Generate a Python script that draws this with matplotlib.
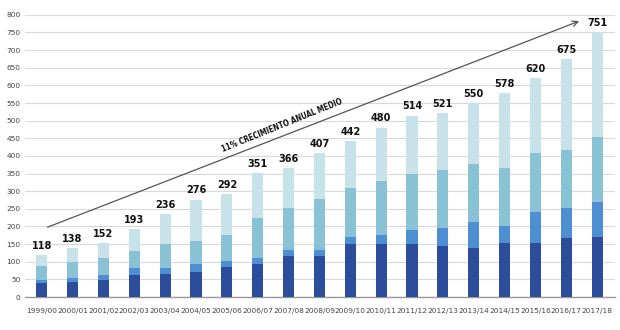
import matplotlib.pyplot as plt
import numpy as np

# Academic years
years = ['1999/00', '2000/01', '2001/02', '2002/03', '2003/04', '2004/05',
         '2005/06', '2006/07', '2007/08', '2008/09', '2009/10', '2010/11',
         '2011/12', '2012/13', '2013/14', '2014/15', '2015/16', '2016/17',
         '2017/18']

# Stacked segments (bottom to top)
seg_dark = [40, 43, 49, 61, 65, 71, 85, 94, 116, 117, 149, 149, 150, 146, 139, 152, 154, 168, 170]
seg_mid = [7, 12, 12, 21, 17, 22, 16, 17, 17, 17, 21, 26, 41, 49, 73, 49, 86, 85, 100]
seg_teal = [41, 45, 49, 49, 69, 65, 74, 114, 119, 143, 138, 155, 158, 165, 165, 165, 167, 165, 185]
totals = [118, 138, 152, 193, 236, 276, 292, 351, 366, 407, 442, 480,
          514, 521, 550, 578, 620, 675, 751]
seg_light = [t - a - b - c for t, a, b, c in zip(totals, seg_dark, seg_mid, seg_teal)]

colors = ['#2c4d9b', '#4d8fd2', '#89c2d4', '#c7e2e9']

fig = plt.figure(figsize=(6.2, 3.3), dpi=100)
ax = fig.add_axes([0.040, 0.100, 0.952, 0.855])

x = np.arange(len(years))
w = 0.36
bottom = np.zeros(len(years))
for seg, col in zip([seg_dark, seg_mid, seg_teal, seg_light], colors):
    ax.bar(x, seg, w, bottom=bottom, color=col, zorder=3)
    bottom += np.array(seg)

# Value labels on top
for xi, t in zip(x, totals):
    ax.text(xi, t + 12, str(t), ha='center', va='bottom', fontsize=7,
            fontweight='semibold', color='#111111', zorder=4)

# Growth arrow
ax.annotate('', xy=(17.5, 785), xytext=(0.1, 195),
            arrowprops=dict(arrowstyle='->', color='#555555', lw=0.9,
                            mutation_scale=10), zorder=4)
ax.text(7.8, 487, '11% CRECIMIENTO ANUAL MEDIO', rotation=22,
        ha='center', va='center', fontsize=5.6, fontweight='bold',
        family=['Liberation Sans Narrow', 'DejaVu Sans'],
        fontstretch='condensed', color='#111111', rotation_mode='anchor')

ax.set_ylim(0, 800)
ax.set_xlim(-0.55, 18.58)
ax.set_yticks(range(0, 801, 50))
ax.set_xticks(x)
ax.set_xticklabels(years)
ax.tick_params(axis='both', length=0, labelsize=5.3, labelcolor='#444444')
ax.tick_params(axis='x', pad=8)
ax.tick_params(axis='y', pad=3)
ax.yaxis.grid(True, color='#d9d9d9', lw=0.8, zorder=0)
for side in ['top', 'right', 'left']:
    ax.spines[side].set_visible(False)
ax.spines['bottom'].set_color('#999999')
ax.spines['bottom'].set_linewidth(1.0)

fig.savefig('out.png', dpi=100)
